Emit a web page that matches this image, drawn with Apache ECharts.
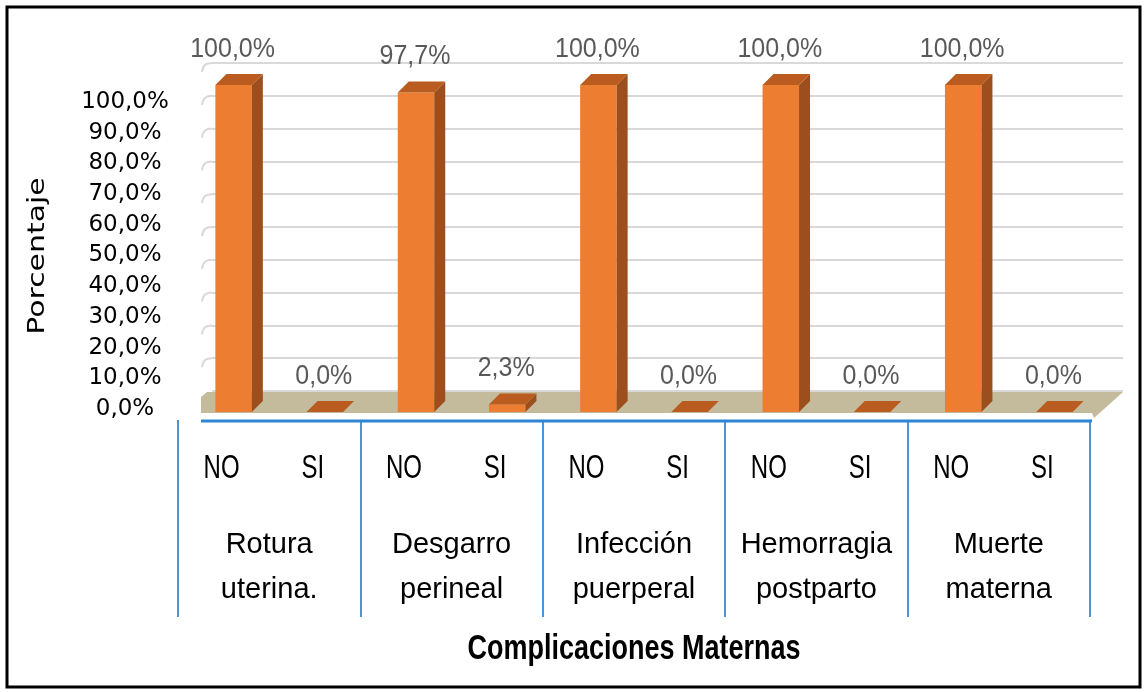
<!DOCTYPE html>
<html><head><meta charset="utf-8">
<script src="https://cdn.jsdelivr.net/npm/echarts@6/dist/echarts.min.js"></script>
<style>html,body{margin:0;padding:0;background:#fff}#c{width:1147px;height:692px}</style>
</head><body><div id="c"></div>
<script>
// ---- data ----
const categories = ['NO', 'SI', 'NO', 'SI', 'NO', 'SI', 'NO', 'SI', 'NO', 'SI'];
const groups = ['Rotura\nuterina.', 'Desgarro\nperineal', 'Infección\npuerperal', 'Hemorragia\npostparto', 'Muerte\nmaterna'];
const values = [100.0, 0.0, 97.7, 2.3, 100.0, 0.0, 100.0, 0.0, 100.0, 0.0];
const yTickValues = [0, 10, 20, 30, 40, 50, 60, 70, 80, 90, 100];
const yTickLabels = ['0,0%', '10,0%', '20,0%', '30,0%', '40,0%', '50,0%', '60,0%', '70,0%', '80,0%', '90,0%', '100,0%'];
const xTitle = 'Complicaciones Maternas';
const yTitle = 'Porcentaje';

// ---- style ----
const SANS = "'Liberation Sans', Arial, sans-serif";
const DEJA = "'DejaVu Sans', sans-serif";
const FRONT = '#ED7D31', SIDE = '#9C4E1C', TOP = '#BA5C1F';
const DX = 11, DY = -11;
const fmt = v => v.toFixed(1).replace('.', ',') + '%';

const chart = echarts.init(document.getElementById('c'), null, {renderer: 'canvas'});

function renderBar(params, api) {
  const i = api.value(0), v = api.value(1);
  const top = api.coord([i, v]);
  const base = api.coord([i, 0]);
  const bw = api.size([1, 0])[0] * 0.4;
  const cx = top[0] + 10;
  const l = cx - bw / 2, r = cx + bw / 2;
  const yt = top[1], yb = base[1];
  const children = [];
  if (yb - yt > 0.5) {
    children.push({type: 'rect', shape: {x: l, y: yt, width: bw, height: yb - yt}, style: {fill: FRONT}});
    children.push({type: 'polygon', shape: {points: [[r, yt], [r + DX, yt + DY], [r + DX, yb + DY], [r, yb]]}, style: {fill: SIDE}});
  }
  children.push({type: 'polygon', shape: {points: [[l, yt], [l + DX, yt + DY], [r + DX, yt + DY], [r, yt]]}, style: {fill: TOP}});
  children.push({type: 'text', x: cx - 1, y: yt + DY - 11, scaleY: 1.12,
    style: {text: fmt(v), x: 0, y: 0, align: 'center', verticalAlign: 'bottom', textAlign: 'center', textVerticalAlign: 'bottom',
      font: '25px ' + SANS, fill: '#595959'}});
  return {type: 'group', children: children};
}

function renderCatLabel(params, api) {
  const i = api.value(0);
  const p = api.coord([i, 0]);
  return {type: 'text', x: p[0] - 2, y: p[1] + 57, scaleY: 1.35,
    style: {text: categories[i], x: 0, y: 0, align: 'center', verticalAlign: 'middle', textAlign: 'center', textVerticalAlign: 'middle',
      font: '24px ' + SANS, fill: '#000'}};
}

function renderFloor(params, api) {
  const cs = params.coordSys;
  const x0 = cs.x, x1 = cs.x + cs.width, yb = cs.y + cs.height;
  return {type: 'group', children: [
    {type: 'polygon', shape: {points: [[x0 + 23, yb + 1], [x0 + 23, yb - 15], [x0 + 29, yb - 20], [x1 + 33, yb - 20], [x1 + 4, yb + 6], [x1 + 2, yb + 1]]},
      style: {fill: '#C4BB9D'}},
    {type: 'line', shape: {x1: x0 + 23, y1: yb + 9, x2: x1 + 2, y2: yb + 9}, style: {stroke: '#2F86D4', lineWidth: 3}}
  ]};
}

function renderHook(params, api) {
  const p = api.coord([0, api.value(1)]);
  return {type: 'bezierCurve', shape: {x1: p[0] - 10, y1: p[1] + 9, x2: p[0], y2: p[1], cpx1: p[0] - 9, cpy1: p[1] + 2, cpx2: p[0] - 6, cpy2: p[1]},
    style: {stroke: '#D9D9D9', lineWidth: 2, fill: null}};
}

const option = {
  animation: false,
  backgroundColor: '#fff',
  graphic: [
    {type: 'rect', shape: {x: 7, y: 7, width: 1133, height: 680}, style: {fill: null, stroke: '#000', lineWidth: 3}, z: 100},
    {type: 'text', x: 634, y: 649, scaleY: 1.3, z: 100,
      style: {text: xTitle, x: 0, y: 0, align: 'center', verticalAlign: 'middle', textAlign: 'center', textVerticalAlign: 'middle',
        font: 'bold 27px ' + SANS, fill: '#000'}},
    {type: 'text', x: 38, y: 256, rotation: Math.PI / 2, scaleX: 1.3, z: 100,
      style: {text: yTitle, x: 0, y: 0, align: 'center', verticalAlign: 'middle', textAlign: 'center', textVerticalAlign: 'middle',
        font: '23px ' + DEJA, fill: '#000'}}
  ],
  grid: [
    {left: 178, right: 57, top: 85, bottom: 280},   // front plane (bars)
    {left: 212, right: 24, top: 63, bottom: 301},   // back wall
    {left: 178, right: 57, top: 102, bottom: 283}   // value labels
  ],
  xAxis: [
    {type: 'category', gridIndex: 0, data: categories, axisLine: {show: false}, axisTick: {show: false},
      axisLabel: {show: false}},
    {type: 'category', gridIndex: 0, data: groups, position: 'bottom', offset: 8,
      axisLine: {show: false},
      axisTick: {show: true, length: 197, lineStyle: {color: '#4C94D8', width: 2}},
      axisLabel: {interval: 0, margin: 102, fontSize: 29, lineHeight: 45, fontFamily: SANS, color: '#000'}},
    {type: 'value', gridIndex: 1, min: 0, max: 1, show: false},
    {type: 'value', gridIndex: 2, min: 0, max: 1, show: false}
  ],
  yAxis: [
    {type: 'value', gridIndex: 0, min: 0, max: 100, show: false},
    {type: 'value', gridIndex: 1, min: 0, max: 100, interval: 10,
      axisLine: {show: false}, axisTick: {show: false}, axisLabel: {show: false},
      splitLine: {show: true, lineStyle: {color: '#D9D9D9', width: 2}}},
    {type: 'value', gridIndex: 2, min: 0, max: 100, interval: 10,
      axisLine: {show: false}, axisTick: {show: false}, splitLine: {show: false},
      axisLabel: {margin: 53, align: 'center', fontSize: 23, fontFamily: DEJA, color: '#000',
        formatter: v => yTickLabels[yTickValues.indexOf(v)]}}
  ],
  series: [
    {type: 'custom', xAxisIndex: 0, yAxisIndex: 0, data: [[0, 0]], renderItem: renderFloor, silent: true, z: 1},
    {type: 'custom', xAxisIndex: 2, yAxisIndex: 1, data: yTickValues.filter(v => v > 0).map(v => [0, v]), renderItem: renderHook, silent: true, z: 1},
    {type: 'custom', xAxisIndex: 0, yAxisIndex: 0, data: values.map((v, i) => [i, v]), renderItem: renderBar, z: 3},
    {type: 'custom', xAxisIndex: 0, yAxisIndex: 0, data: categories.map((c, i) => [i, 0]), renderItem: renderCatLabel, silent: true, z: 3}
  ]
};
chart.setOption(option);
</script></body></html>
